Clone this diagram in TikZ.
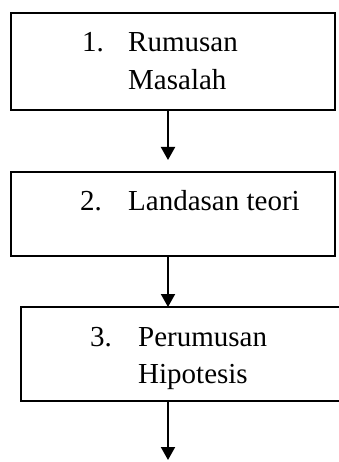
\documentclass[tikz,border=0pt]{standalone}
\usepackage{fontspec}
\setmainfont{Liberation Serif}
\usetikzlibrary{arrows.meta}
\begin{document}
\begin{tikzpicture}[x=1pt,y=-1pt,
  box/.style={draw=black, line width=2pt, rectangle, inner sep=0pt},
  txt/.style={anchor=base west, inner sep=0pt, font=\fontsize{29}{34}\selectfont},
  arr/.style={draw=black, line width=2pt, -{Triangle[width=14pt,length=13pt]}}]
\clip (0,0) rectangle (339,462);
\node[box, minimum width=324pt, minimum height=97pt] (b1) at (173,61.5) {};
\node[box, minimum width=324pt, minimum height=84pt] (b2) at (173,214) {};
\node[box, minimum width=334pt, minimum height=94pt] (b3) at (188,354) {};
\node[txt] (n1) at (82,52) {1.};
\node[txt] (t1a) at (128,52) {Rumusan};
\node[txt] (t1b) at (128,90) {Masalah};
\node[txt] (n2) at (80,210) {2.};
\node[txt] (t2) at (128,210) {Landasan teori};
\node[txt] (n3) at (90,346) {3.};
\node[txt] (t3a) at (138,346) {Perumusan};
\node[txt] (t3b) at (138,383) {Hipotesis};
\coordinate (s1) at (168,110);
\coordinate (e1) at (168,160);
\coordinate (s2) at (168,256);
\coordinate (e2) at (168,307);
\coordinate (s3) at (168,401);
\coordinate (e3) at (168,460);
\draw[arr] (s1) -- (e1);
\draw[arr] (s2) -- (e2);
\draw[arr] (s3) -- (e3);
\end{tikzpicture}
\end{document}
